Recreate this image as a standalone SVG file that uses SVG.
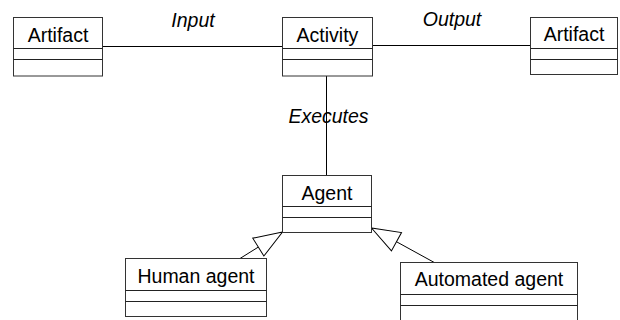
<svg xmlns="http://www.w3.org/2000/svg" width="620" height="320" viewBox="0 0 620 320">
  <style>
    .box { fill: #ffffff; stroke: #333333; stroke-width: 1; }
    .div { stroke: #222222; stroke-width: 1; }
    .name { font-family: "Liberation Sans", Arial, sans-serif; font-size: 19.5px; fill: #000000; text-anchor: middle; }
    .role { font-family: "Liberation Sans", Arial, sans-serif; font-size: 19.5px; font-style: italic; fill: #000000; text-anchor: middle; }
    .conn { fill: none; stroke: #000000; stroke-width: 1; }
  </style>
  <defs>
    <!-- hollow generalization triangle, tip at the superclass -->
    <marker id="gen" markerUnits="userSpaceOnUse" viewBox="-31 -13 33 26" markerWidth="33" markerHeight="26" refX="0" refY="0" orient="auto" overflow="visible">
      <path d="M0,0 L-28.5,-10.5 L-28.5,10.5 Z" fill="#ffffff" stroke="#000000" stroke-width="1"/>
    </marker>
  </defs>
  <rect width="620" height="320" fill="#ffffff"/>

  <g id="connectors">
    <line class="conn" x1="102.5" y1="46.5" x2="282.5" y2="46.5"/>
    <line class="conn" x1="372.5" y1="45.5" x2="530.5" y2="45.5"/>
    <line class="conn" x1="326.5" y1="76" x2="326.5" y2="175.5"/>
    <path class="conn" d="M240,258.5 L282.5,232" marker-end="url(#gen)"/>
    <path class="conn" d="M434.3,262.5 L371.5,228" marker-end="url(#gen)"/>
    <text class="role" x="193" y="26.5">Input</text>
    <text class="role" x="452" y="26">Output</text>
    <text class="role" x="328.5" y="122.5">Executes</text>
  </g>

  <g id="artifact-in">
    <rect class="box" x="13.5" y="17.5" width="89" height="58.5"/>
    <line class="div" x1="13.5" y1="48.5" x2="102.5" y2="48.5"/>
    <line class="div" x1="13.5" y1="59.5" x2="102.5" y2="59.5"/>
    <text class="name" x="58" y="42">Artifact</text>
  </g>

  <g id="activity">
    <rect class="box" x="282.5" y="17.5" width="90" height="58.5"/>
    <line class="div" x1="282.5" y1="48.5" x2="372.5" y2="48.5"/>
    <line class="div" x1="282.5" y1="59.5" x2="372.5" y2="59.5"/>
    <text class="name" x="327.5" y="42">Activity</text>
  </g>

  <g id="artifact-out">
    <rect class="box" x="530.5" y="17.5" width="87" height="57"/>
    <line class="div" x1="530.5" y1="48.5" x2="617.5" y2="48.5"/>
    <line class="div" x1="530.5" y1="59.5" x2="617.5" y2="59.5"/>
    <text class="name" x="574" y="41">Artifact</text>
  </g>

  <g id="agent">
    <rect class="box" x="282.5" y="175.5" width="89" height="57"/>
    <line class="div" x1="282.5" y1="206.5" x2="371.5" y2="206.5"/>
    <line class="div" x1="282.5" y1="217.5" x2="371.5" y2="217.5"/>
    <text class="name" x="327" y="200">Agent</text>
  </g>

  <g id="human-agent">
    <rect class="box" x="125.5" y="258.5" width="141" height="58"/>
    <line class="div" x1="125.5" y1="290.5" x2="266.5" y2="290.5"/>
    <line class="div" x1="125.5" y1="301.5" x2="266.5" y2="301.5"/>
    <text class="name" x="196" y="282.5">Human agent</text>
  </g>

  <g id="automated-agent">
    <rect class="box" x="400.5" y="262.5" width="177" height="64"/>
    <line class="div" x1="400.5" y1="294.5" x2="577.5" y2="294.5"/>
    <line class="div" x1="400.5" y1="305.5" x2="577.5" y2="305.5"/>
    <text class="name" x="489" y="286">Automated agent</text>
  </g>
</svg>
